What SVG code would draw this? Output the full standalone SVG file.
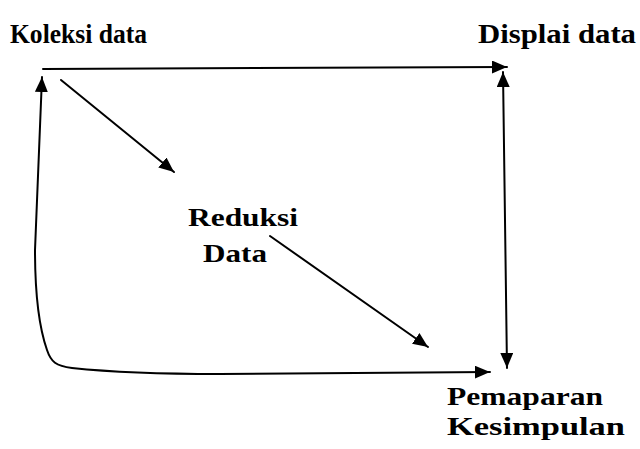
<svg xmlns="http://www.w3.org/2000/svg" width="640" height="449" viewBox="0 0 640 449">
<style>
.lbl{font-family:'Liberation Serif','DejaVu Serif','Noto Serif',serif;font-weight:700;fill:#000}
.edge{fill:none;stroke:#000;stroke-width:2;stroke-linecap:round;stroke-linejoin:round}
</style>
<defs>
<marker id="ah" markerUnits="userSpaceOnUse" markerWidth="16" markerHeight="14" refX="15" refY="6.5" orient="auto-start-reverse">
<path d="M0,0 L15,6.5 L0,13 z" fill="#000"/>
</marker>
</defs>
<rect width="640" height="449" fill="#fff"/>
<g id="connectors">
<path class="edge" d="M43,69 L507,67" marker-end="url(#ah)"/>
<path class="edge" d="M503,72 L507,368" marker-start="url(#ah)" marker-end="url(#ah)"/>
<path class="edge" d="M61,80 L174,172" marker-end="url(#ah)"/>
<path class="edge" d="M270,236 L428,347" marker-end="url(#ah)"/>
<path class="edge" d="M42,77 L35,250 C35,300 40,330 47,350 C51,362 56,366 72,368 C110,372 160,374 220,374 L490,372" marker-start="url(#ah)" marker-end="url(#ah)"/>
</g>
<g id="koleksi">
<text class="lbl" x="10" y="43" font-size="27" textLength="137" lengthAdjust="spacingAndGlyphs">Koleksi data</text>
</g>
<g id="displai">
<text class="lbl" x="478" y="43" font-size="27" textLength="158" lengthAdjust="spacingAndGlyphs">Displai data</text>
</g>
<g id="reduksi">
<text class="lbl" x="188" y="226" font-size="25" textLength="110" lengthAdjust="spacingAndGlyphs">Reduksi</text>
<text class="lbl" x="203" y="262" font-size="25" textLength="64" lengthAdjust="spacingAndGlyphs">Data</text>
</g>
<g id="pemaparan">
<text class="lbl" x="447" y="405" font-size="25" textLength="156" lengthAdjust="spacingAndGlyphs">Pemaparan</text>
<text class="lbl" x="447" y="435" font-size="25" textLength="178" lengthAdjust="spacingAndGlyphs">Kesimpulan</text>
</g>
</svg>
